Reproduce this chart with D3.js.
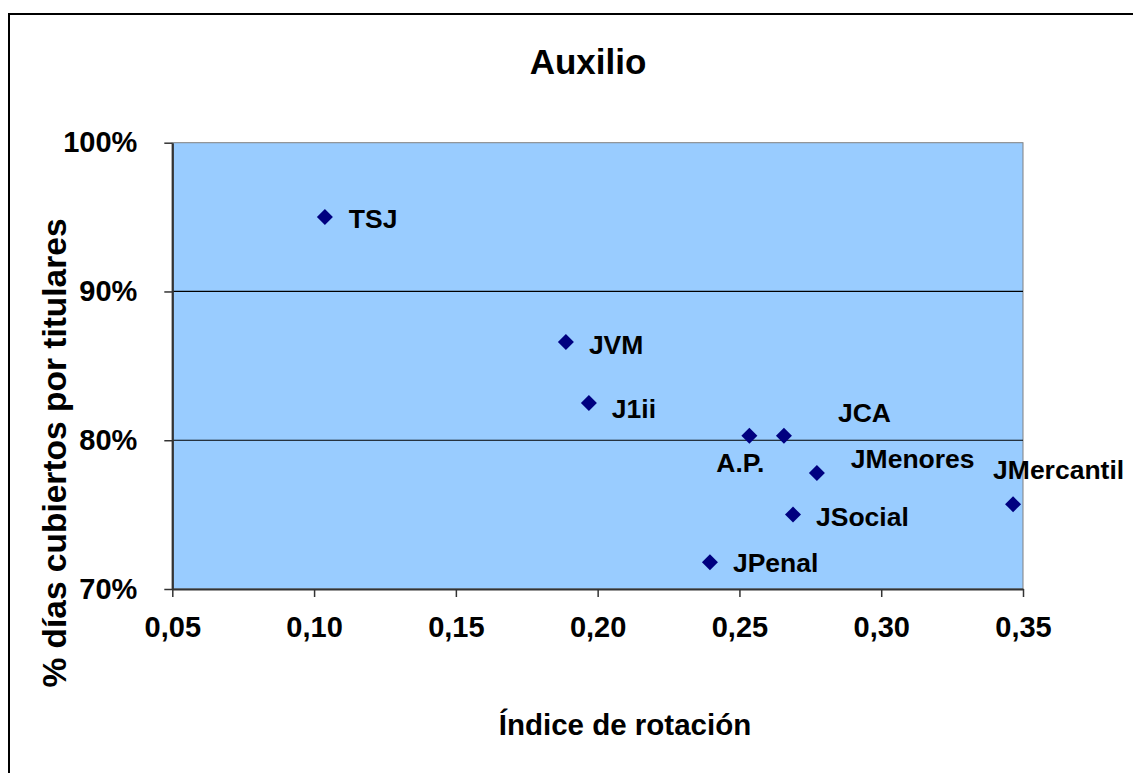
<!DOCTYPE html>
<html><head><meta charset="utf-8">
<script src="https://cdn.jsdelivr.net/npm/d3@7"></script>
<style>
html,body{margin:0;padding:0;background:#fff;}
svg{display:block;font-family:"Liberation Sans",Arial,sans-serif;font-weight:bold;}
</style></head>
<body>
<svg id="chart" width="1133" height="773"></svg>
<script>
// ---- data ----
const names = ["TSJ","JVM","J1ii","A.P.","JCA","JMenores","JSocial","JPenal","JMercantil"];
const rotation = [0.1038,0.1888,0.1969,0.2535,0.2657,0.2773,0.2689,0.2396,0.3465];
const coverage = [0.950,0.866,0.825,0.803,0.803,0.778,0.750,0.718,0.757];
const xTicks = [0.05,0.10,0.15,0.20,0.25,0.30,0.35];
const xTickLabels = ["0,05","0,10","0,15","0,20","0,25","0,30","0,35"];
const yTicks = [0.7,0.8,0.9,1.0];
const yTickLabels = ["70%","80%","90%","100%"];
const gridValues = [0.8,0.9];
const title = "Auxilio";
const xTitle = "Índice de rotación";
const yTitle = "% días cubiertos por titulares";

// ---- label placement (layout only) ----
const labelPlace = {
  "TSJ":[24,11], "JVM":[23,12], "J1ii":[23,15], "A.P.":[-33,36], "JCA":[54,-14],
  "JMenores":[34,-5], "JSocial":[23,11], "JPenal":[23,10], "JMercantil":[-20,-25]
};

const svg = d3.select("#chart");
svg.append("rect").attr("x",0).attr("y",0).attr("width",1133).attr("height",773).attr("fill","#fff");
// outer chart border
svg.append("rect").attr("x",9).attr("y",14).attr("width",1140).attr("height",780)
  .attr("fill","none").attr("stroke","#000").attr("stroke-width",2);

const L=172.3, R=1023, T=142.7, B=589;
const x = d3.scaleLinear().domain([0.05,0.35]).range([L,R]);
const y = d3.scaleLinear().domain([0.7,1.0]).range([B,T]);

// plot area
svg.append("rect").attr("x",L).attr("y",T).attr("width",R-L).attr("height",B-T)
  .attr("fill","#99CCFF").attr("stroke","#808080").attr("stroke-width",1);

// gridlines
svg.append("g").selectAll("line").data(gridValues).join("line")
  .attr("x1",L).attr("x2",R).attr("y1",d=>y(d)).attr("y2",d=>y(d))
  .attr("stroke","#000").attr("stroke-width",1.2);

// axes
const xAxis = d3.axisBottom(x).tickValues(xTicks)
  .tickFormat((d,i)=>xTickLabels[i]).tickSize(8).tickSizeOuter(0).tickPadding(19);
const gx = svg.append("g").attr("transform",`translate(0,${B})`).call(xAxis);
gx.select(".domain").attr("stroke","#333").attr("stroke-width",2.2);
gx.selectAll(".tick line").attr("stroke","#333").attr("stroke-width",1.5);
gx.selectAll("text").attr("font-size",29).attr("font-weight","bold").attr("fill","#000")
  .attr("font-family","Liberation Sans, Arial, sans-serif");

const yAxis = d3.axisLeft(y).tickValues(yTicks)
  .tickFormat((d,i)=>yTickLabels[i]).tickSize(8).tickSizeOuter(0).tickPadding(27);
const gy = svg.append("g").attr("transform",`translate(${L},0)`).call(yAxis);
gy.select(".domain").attr("stroke","#333").attr("stroke-width",2.2);
gy.selectAll(".tick line").attr("stroke","#333").attr("stroke-width",1.5);
gy.selectAll("text").attr("font-size",29).attr("font-weight","bold").attr("fill","#000")
  .attr("font-family","Liberation Sans, Arial, sans-serif");

// markers
const pts = names.map((n,i)=>({name:n, x:rotation[i], y:coverage[i]}));
const h = 8;
svg.append("g").selectAll("path").data(pts).join("path")
  .attr("transform",d=>`translate(${x(d.x)},${y(d.y)})`)
  .attr("d",`M0,${-h}L${h},0L0,${h}L${-h},0Z`)
  .attr("fill","#000080");

// point labels
svg.append("g").selectAll("text").data(pts).join("text")
  .attr("x",d=>x(d.x)+labelPlace[d.name][0])
  .attr("y",d=>y(d.y)+labelPlace[d.name][1])
  .attr("font-size",26.5).attr("fill","#000")
  .text(d=>d.name);

// titles
svg.append("text").attr("x",588).attr("y",74).attr("text-anchor","middle")
  .attr("font-size",35).text(title);
svg.append("text").attr("x",625).attr("y",735).attr("text-anchor","middle")
  .attr("font-size",29.5).text(xTitle);
svg.append("text").attr("transform","translate(66,453) rotate(-90)")
  .attr("text-anchor","middle").attr("font-size",33.5).text(yTitle);
</script>
</body></html>
